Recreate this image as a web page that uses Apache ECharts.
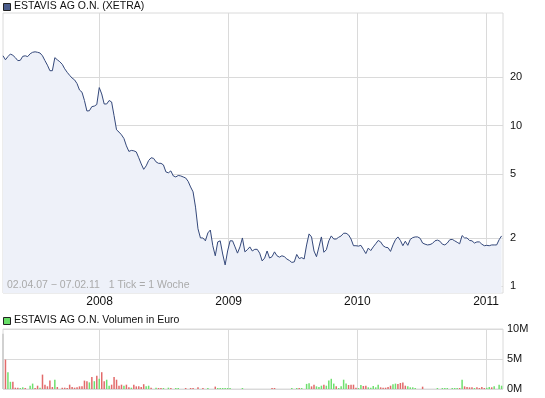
<!DOCTYPE html>
<html>
<head>
<meta charset="utf-8">
<script src="https://cdn.jsdelivr.net/npm/echarts@6/dist/echarts.min.js"></script>
<style>
html,body{margin:0;padding:0;background:#fff;}
#chart{width:545px;height:398px;}
</style>
</head>
<body>
<div id="chart"></div>
<script>
// ---- data (weekly, starting 02.04.2007) ----
const startDate = '2007-04-02';
const priceTitle = 'ESTAVIS AG O.N. (XETRA)';
const volumeTitle = 'ESTAVIS AG O.N. Volumen in Euro';
const rangeText = '02.04.07 \u2212 07.02.11   1 Tick = 1 Woche';
const yearTicks = ['2008-01-01', '2009-01-01', '2010-01-01', '2011-01-01'];
const priceTicks = [1, 2, 5, 10, 20];
const volumeTicks = [0, 5, 10];

const price = [
 27.1,25.6,26.8,27.8,27.3,26.4,25.3,25.4,26.9,27.1,
 26.8,27.9,28.5,28.7,28.5,28.2,27.1,25.3,23.7,21.9,
 21.9,26.4,25.6,24.9,24.0,22.5,21.4,20.5,19.7,19.2,
 18.2,16.6,16.1,14.3,12.3,12.35,13.1,13.2,13.5,17.2,
 15.7,13.6,13.6,14.3,14.0,11.5,9.4,9.1,8.75,8.3,
 7.47,6.9,7.0,6.96,6.85,6.3,5.77,5.34,5.61,6.06,
 6.3,6.25,5.94,5.82,5.82,5.69,5.15,5.08,5.22,4.86,
 4.79,4.89,4.86,4.79,4.72,4.5,4.15,3.87,3.11,2.28,
 2.0,2.0,1.92,2.15,2.24,1.79,1.55,1.89,1.92,1.59,
 1.36,1.66,1.92,1.92,1.76,1.61,1.76,2.0,1.64,1.69,
 1.76,1.66,1.70,1.70,1.61,1.44,1.50,1.66,1.50,1.53,
 1.64,1.55,1.52,1.55,1.53,1.48,1.45,1.41,1.42,1.58,
 1.49,1.51,1.48,1.81,2.12,2.03,1.66,1.53,1.76,2.03,
 1.63,1.69,1.92,2.06,1.97,1.97,2.02,2.06,2.14,2.14,
 2.09,1.97,1.79,1.79,1.78,1.80,1.70,1.60,1.73,1.67,
 1.76,1.84,1.93,1.89,1.79,1.75,1.74,1.65,1.81,1.95,
 2.03,1.93,1.79,1.91,1.80,1.96,2.01,2.03,2.03,1.99,
 1.86,1.83,1.81,1.82,1.85,1.92,1.94,1.91,1.83,1.81,
 1.86,1.95,1.96,1.92,1.88,1.84,2.07,2.0,2.0,1.93,
 1.92,1.86,1.89,1.89,1.83,1.79,1.80,1.79,1.81,1.81,
 1.81,1.95,2.06
];

// volume in million euro
const volume = [
 9.2,4.9,2.8,1.2,1.2,0.22,0.22,0.17,0.28,0.17,
 0,0.55,0.9,0.17,0.55,0.22,2.4,0.72,0.45,1.4,
 0.33,1.55,0.33,0,0.22,0.22,0.17,0.72,0.33,0.22,
 0.28,0.44,0.44,1.4,1.3,1.1,2.0,1.3,2.2,1.7,
 2.8,1.3,1.55,0.55,0.72,2.0,1.55,0.55,0.72,0.55,
 0.72,0.28,0.22,0.72,0.44,0.44,0.33,0.8,0.44,0.55,
 0.22,0,0.22,0.17,0.17,0.17,0,0.22,0.17,0,
 0.17,0.17,0,0,0.17,0,0.17,0.17,0,0.28,
 0,0.17,0,0.17,0,0,0.4,0.17,0.17,0.17,
 0.17,0.17,0.17,0,0,0,0,0.17,0,0,
 0,0,0,0,0,0,0,0,0,0.17,
 0.17,0,0,0,0,0,0,0.17,0,0.17,
 0.17,0.17,0,0.85,0.95,0.44,0.72,0.44,0.33,0.55,
 0.72,0.55,1.4,1.7,0.9,0.44,0.17,0.44,1.55,0.9,
 0.67,0.72,0.72,0.22,0.17,0.67,0.5,0.55,0.28,0.22,
 0.5,0.28,0.72,0.28,0.22,0.22,0.33,0.55,0.8,0.9,
 0.85,1.0,1.1,0.55,0.44,0.28,0.28,0.17,0,0,
 0.39,0,0,0,0,0,0.17,0,0.17,0.17,
 0.17,0,0.17,0.17,0.17,0.17,1.55,0.44,0.33,0.28,
 0.28,0.17,0.28,0.17,0.33,0.17,0.22,0.33,0.28,0.44,
 0,0.72,0.55
];

// colour of each week's volume bar: u = green, d = red, n = grey
const volumeDir = [
 'nduuddduud', 'uuuddudddd', 'dudddddddd', 'dddddududu', 'dduudddddu',
 'dduddddduu', 'duudduuudu', 'uuuududdud', 'uduuuuduuu', 'uuuuuuuuuu',
 'uuuuuuuuud', 'duuuuuuuuu', 'duuuudduuu', 'duuuuduuuu', 'dddduudduu',
 'uuuddddduu', 'dddduuuuuu', 'duuuuuuuuu', 'uuuuududdd', 'dudddduudu',
 'uuu'
].join('').split('');

// ---- build ----
const DAY = 86400000;
const t0 = Date.parse(startDate + 'T00:00:00Z');
const dates = price.map((_, i) => t0 + i * 7 * DAY);
const xMin = t0;
const xMax = Date.parse('2011-02-18T00:00:00Z');
const yearVals = yearTicks.map(s => Date.parse(s + 'T00:00:00Z'));

const colors = { u: '#6ee06e', d: '#e26a6a', n: '#c8c8c8' };
const FONT = '"Liberation Sans", Arial, sans-serif';
const gridColor = '#dadada';

const chart = echarts.init(document.getElementById('chart'), null, { renderer: 'canvas' });

const xAxisBase = (gridIndex, showLabels) => ({
  type: 'value', gridIndex, min: xMin, max: xMax,
  axisLine: { show: false },
  axisTick: { show: false, customValues: yearVals },
  splitLine: { show: true, lineStyle: { color: gridColor, width: 1 } },
  axisLabel: {
    show: showLabels, customValues: yearVals, color: '#111', fontSize: 12, fontFamily: FONT, margin: 3,
    formatter: v => String(new Date(v).getUTCFullYear())
  }
});

chart.setOption({
  animation: false,
  grid: [
    { left: 3, right: 42, top: 13, height: 280, show: true, borderColor: gridColor, borderWidth: 1, backgroundColor: 'transparent', outerBoundsMode: 'none' },
    { left: 3, right: 42, top: 329, height: 60, show: true, borderColor: gridColor, borderWidth: 1, backgroundColor: 'transparent', outerBoundsMode: 'none' }
  ],
  xAxis: [xAxisBase(0, true), xAxisBase(1, false)],
  yAxis: [
    {
      type: 'log', logBase: 10, gridIndex: 0, position: 'right', min: 0.91, max: 50,
      axisLine: { show: false },
      axisTick: { show: false, customValues: priceTicks },
      splitLine: { show: true, lineStyle: { color: gridColor, width: 1 } },
      axisLabel: { customValues: priceTicks, color: '#111', fontSize: 11, fontFamily: FONT, margin: 7 }
    },
    {
      type: 'value', gridIndex: 1, position: 'right', min: 0, max: 10, interval: 5,
      axisLine: { show: false }, axisTick: { show: false },
      splitLine: { show: true, lineStyle: { color: gridColor, width: 1 } },
      axisLabel: { color: '#111', fontSize: 11, fontFamily: FONT, margin: 4, formatter: v => v + 'M' }
    }
  ],
  series: [
    {
      type: 'line', xAxisIndex: 0, yAxisIndex: 0,
      data: price.map((v, i) => [dates[i], v]),
      showSymbol: false, symbol: 'none',
      lineStyle: { color: '#34487a', width: 1 },
      areaStyle: { color: '#eef1f9', opacity: 1, origin: 'start' },
      z: 3
    },
    {
      type: 'bar', xAxisIndex: 1, yAxisIndex: 1, barWidth: 1.5,
      data: volume.map((v, i) => ({ value: [dates[i], v], itemStyle: { color: colors[volumeDir[i]] || colors.u } })),
      z: 3
    }
  ],
  graphic: [
    { type: 'rect', left: 3, top: 3, shape: { width: 7, height: 7 }, style: { fill: '#4b5d8c', stroke: '#222', lineWidth: 1 } },
    { type: 'text', left: 14, top: 1, style: { text: priceTitle, fill: '#111', font: '10.5px ' + FONT } },
    { type: 'rect', left: 3, top: 317, shape: { width: 7, height: 7 }, style: { fill: '#66dd66', stroke: '#222', lineWidth: 1 } },
    { type: 'text', left: 14, top: 315, style: { text: volumeTitle, fill: '#111', font: '10.5px ' + FONT } },
    { type: 'text', left: 7, top: 280, z: 100, style: { text: rangeText, fill: '#aaaaaa', font: '10.5px ' + FONT } }
  ]
});
</script>
</body>
</html>
